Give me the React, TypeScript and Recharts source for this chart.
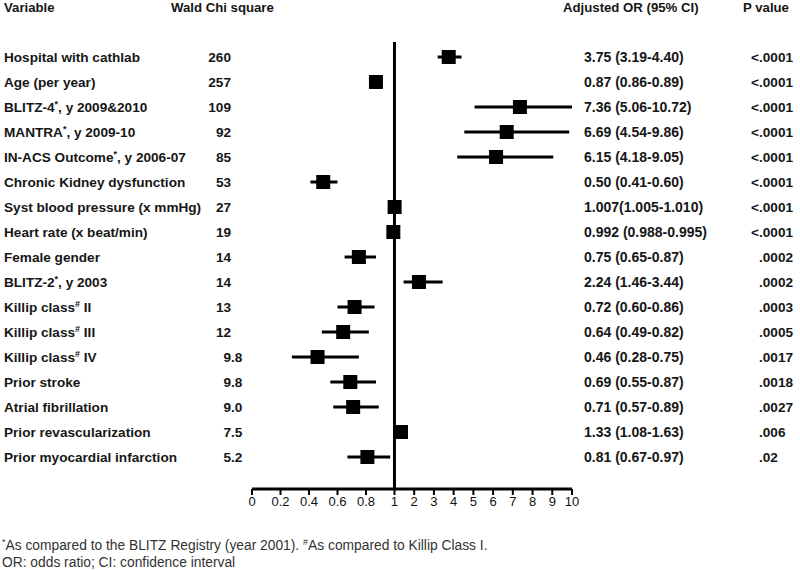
import React from "react";
import {
  ReferenceLine,
  Scatter,
  ScatterChart,
  XAxis,
  YAxis,
} from "recharts";

const variables = [
  "Hospital with cathlab",
  "Age (per year)",
  "BLITZ-4*, y 2009&2010",
  "MANTRA*, y 2009-10",
  "IN-ACS Outcome*,  y 2006-07",
  "Chronic Kidney dysfunction",
  "Syst blood pressure (x mmHg)",
  "Heart rate (x beat/min)",
  "Female gender",
  "BLITZ-2*, y 2003",
  "Killip class# II",
  "Killip class# III",
  "Killip class# IV",
  "Prior stroke",
  "Atrial fibrillation",
  "Prior revascularization",
  "Prior myocardial infarction",
];

const waldChi = ["260", "257", "109", "92", "85", "53", "27", "19", "14", "14", "13", "12", "9.8", "9.8", "9.0", "7.5", "5.2"];

const oddsRatio = [3.75, 0.87, 7.36, 6.69, 6.15, 0.5, 1.007, 0.992, 0.75, 2.24, 0.72, 0.64, 0.46, 0.69, 0.71, 1.33, 0.81];
const ciLow = [3.19, 0.86, 5.06, 4.54, 4.18, 0.41, 1.005, 0.988, 0.65, 1.46, 0.6, 0.49, 0.28, 0.55, 0.57, 1.08, 0.67];
const ciHigh = [4.4, 0.89, 10.72, 9.86, 9.05, 0.6, 1.01, 0.995, 0.87, 3.44, 0.86, 0.82, 0.75, 0.87, 0.89, 1.63, 0.97];

const orLabels = [
  "3.75 (3.19-4.40)",
  "0.87 (0.86-0.89)",
  "7.36 (5.06-10.72)",
  "6.69 (4.54-9.86)",
  "6.15 (4.18-9.05)",
  "0.50 (0.41-0.60)",
  "1.007(1.005-1.010)",
  "0.992 (0.988-0.995)",
  "0.75 (0.65-0.87)",
  "2.24 (1.46-3.44)",
  "0.72 (0.60-0.86)",
  "0.64 (0.49-0.82)",
  "0.46 (0.28-0.75)",
  "0.69 (0.55-0.87)",
  "0.71 (0.57-0.89)",
  "1.33 (1.08-1.63)",
  "0.81 (0.67-0.97)",
];

const pValues = ["<.0001", "<.0001", "<.0001", "<.0001", "<.0001", "<.0001", "<.0001", "<.0001", ".0002", ".0002", ".0003", ".0005", ".0017", ".0018", ".0027", ".006", ".02"];

const tickValues = [0, 0.2, 0.4, 0.6, 0.8, 1, 2, 3, 4, 5, 6, 7, 8, 9, 10];

// axis is split: 0-1 stretched, 1-10 compressed
const K = 19.7 / 142.3;
const pos = (v: number) => (v <= 1 ? v : 1 + (Math.min(v, 10) - 1) * K);

const FONT = '"Liberation Sans", Arial, sans-serif';

const rows = variables.map((name, i) => ({
  name,
  x: pos(oddsRatio[i]),
  y: i,
  lo: pos(ciLow[i]),
  hi: pos(ciHigh[i]),
}));

function withSup(label: string) {
  const parts = label.split(/([*#])/);
  return parts.map((p, i) =>
    p === "*" || p === "#" ? (
      <tspan key={i} fontSize={9} dy={-5}>
        {p}
      </tspan>
    ) : (
      <tspan key={i} dy={i > 0 && (parts[i - 1] === "*" || parts[i - 1] === "#") ? 5 : 0}>
        {p}
      </tspan>
    )
  );
}

function RowTick(props: any) {
  const { y, payload } = props;
  const i = payload.value as number;
  const chi = waldChi[i].split(".");
  const p = pValues[i];
  const txt = { fontFamily: FONT, fontSize: 13.6, fontWeight: 700, fill: "#161616" };
  const cy = y + 5;
  return (
    <g>
      <text x={4} y={cy} {...txt}>
        {withSup(variables[i])}
      </text>
      <text x={231} y={cy} textAnchor="end" {...txt}>
        {chi[0]}
      </text>
      {chi[1] && (
        <text x={231} y={cy} {...txt}>
          {"." + chi[1]}
        </text>
      )}
      <text x={584} y={cy} {...txt} fontSize={14}>
        {orLabels[i]}
      </text>
      {p.startsWith("<") && (
        <text x={759} y={cy} textAnchor="end" {...txt}>
          {"<"}
        </text>
      )}
      <text x={759} y={cy} {...txt}>
        {p.replace("<", "")}
      </text>
    </g>
  );
}

function Square(props: any) {
  const { cx, cy } = props;
  return <rect x={cx - 7} y={cy - 7} width={14} height={14} fill="#000" />;
}

export default function App() {
  return (
    <div style={{ position: "absolute", left: 0, top: 0, width: 800, height: 570, background: "#fff" }}>
      <ScatterChart width={800} height={570} margin={{ top: 42, right: 228, bottom: 51, left: 0 }}>
        <XAxis
          type="number"
          dataKey="x"
          domain={[0, pos(10)]}
          ticks={tickValues.map(pos)}
          interval={0}
          tickFormatter={(v: number) => {
            const idx = tickValues.findIndex((t) => Math.abs(pos(t) - v) < 1e-6);
            return idx >= 0 ? String(tickValues[idx]) : "";
          }}
          axisLine={{ stroke: "#000", strokeWidth: 3 }}
          tickLine={{ stroke: "#000", strokeWidth: 2 }}
          tickSize={6}
          tick={{ fontSize: 13, fill: "#111", fontFamily: FONT }}
          height={30}
        />
        <YAxis
          type="number"
          dataKey="y"
          domain={[-0.6, 17.28]}
          reversed
          ticks={rows.map((r) => r.y)}
          interval={0}
          width={252}
          axisLine={false}
          tickLine={false}
          tick={<RowTick />}
        />
        <ReferenceLine x={1} stroke="#000" strokeWidth={3} />
        {rows.map((r) => (
          <ReferenceLine
            key={r.name}
            segment={[
              { x: r.lo, y: r.y },
              { x: r.hi, y: r.y },
            ]}
            stroke="#000"
            strokeWidth={3}
          />
        ))}
        <Scatter data={rows} shape={<Square />} isAnimationActive={false} />
      </ScatterChart>
      <svg
        width={800}
        height={570}
        style={{ position: "absolute", left: 0, top: 0, pointerEvents: "none" }}
      >
        <g fontFamily={FONT} fontSize={13.2} fontWeight={700} fill="#161616">
          <text x={4} y={12}>Variable</text>
          <text x={171} y={12}>Wald Chi square</text>
          <text x={563} y={12}>Adjusted OR (95% CI)</text>
          <text x={743} y={12}>P value</text>
        </g>
        <g fontFamily={FONT} fontSize={13.8} fill="#333">
          <text x={2} y={550}>
            {withSup("*As compared to the BLITZ Registry (year 2001). #As compared to Killip Class I.")}
          </text>
          <text x={2} y={567}>OR: odds ratio; CI: confidence interval</text>
        </g>
      </svg>
    </div>
  );
}
